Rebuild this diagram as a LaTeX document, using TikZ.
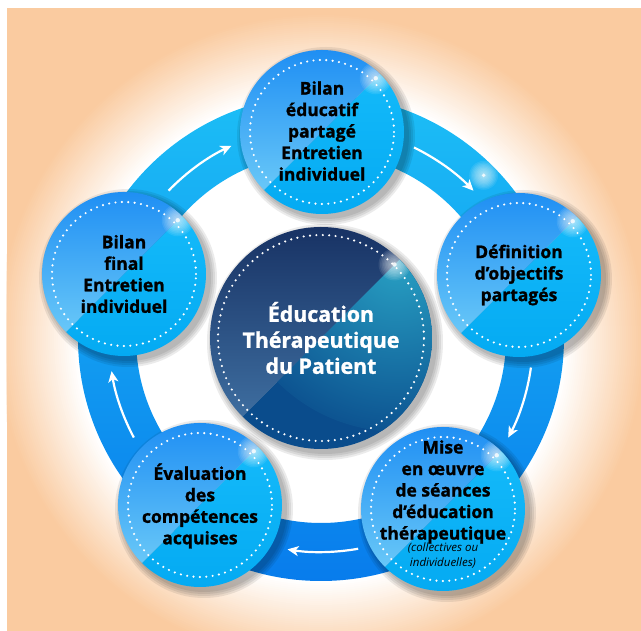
\documentclass[tikz,border=0pt]{standalone}
\usepackage{fontspec}
\setmainfont{Open Sans}[BoldFeatures={FakeBold=1.2}]
\usetikzlibrary{arrows.meta}
\definecolor{peach}{RGB}{250,203,160}
\definecolor{ringtop}{RGB}{28,190,246}
\definecolor{ringbot}{RGB}{8,124,236}
\definecolor{cblue}{RGB}{12,128,242}
\definecolor{clight}{RGB}{105,200,248}
\definecolor{ccyanA}{RGB}{20,186,250}
\definecolor{ccyanB}{RGB}{0,166,240}
\definecolor{navyA}{RGB}{14,35,85}
\definecolor{navySlate}{RGB}{62,110,160}
\definecolor{navyB}{RGB}{10,76,140}
\definecolor{tealglow}{RGB}{40,160,195}
\tikzset{
  dotty/.style={white, line width=2.4pt, line cap=round, dash pattern=on 0pt off 6.4pt},
  flow/.style={white, line width=2.2pt, -{Stealth[length=11pt,width=10pt,inset=3pt]}},
  lbl/.style={align=center, text=black, font=\bfseries\fontsize{17.5}{21.5}\selectfont, inner sep=0pt},
  note/.style={align=center, text=black, font=\itshape\fontsize{11.5}{15}\selectfont, inner sep=0pt},
  ctitle/.style={align=center, text=white, font=\bfseries\fontsize{21.3}{26}\selectfont, inner sep=0pt},
}
\newcommand{\etpshadow}[2]{%
  \foreach \d in {7,5,3,1} {\fill[black, opacity=0.08] ([shift={(4,-4)}]#1) circle ({#2+\d});}%
}
\newcommand{\etpglint}[2]{%
  \foreach \rr in {16,14.5,...,1} {\fill[white, opacity=0.09] (#1) circle ({\rr*#2});}%
  \fill[white, opacity=0.8] (#1) circle ({2.2*#2});%
}
\newcommand{\etpbubble}[1]{%
  \etpshadow{#1}{82}
  \begin{scope}
    \clip (#1) circle (82);
    \begin{scope}[shift={(#1)}, rotate=45]
      \shade[top color=ccyanA, bottom color=ccyanB] (-84,-84) rectangle (84,0);
      \shade[top color=cblue, bottom color=clight] (-84,0) rectangle (84,84);
    \end{scope}
    \etpglint{[shift={(45:76)}]#1}{1}
  \end{scope}
  \draw[dotty] (#1) circle (72);
}
\begin{document}
\begin{tikzpicture}[x=1pt,y=1pt]
\useasboundingbox (-321,-293) rectangle (320,338);
\coordinate (O) at (0,0);
% background
\fill[peach] (-314,-293) rectangle (320,330);
\begin{scope}
  \clip (-314,-293) rectangle (320,330);
  \foreach \i [evaluate=\i as \pct using {\i*2.5}, evaluate=\i as \rad using {325-2*\i}] in {0,...,40}
    {\fill[white!\pct!peach] (O) circle (\rad);}
\end{scope}
% ring
\shade[top color=ringtop, bottom color=ringbot, even odd rule] (O) circle (243) (O) circle (185);
\etpglint{[shift={(45:230)}]O}{0.9}
% arrows
\draw[flow] ([shift={(136:212)}]O) arc[start angle=136, end angle=115, radius=212];
\draw[flow] ([shift={(64:212)}]O) arc[start angle=64, end angle=44, radius=212];
\draw[flow] ([shift={(-8:212)}]O) arc[start angle=-8, end angle=-28, radius=212];
\draw[flow] ([shift={(-80:214)}]O) arc[start angle=-80, end angle=-99, radius=214];
\draw[flow] ([shift={(208:212)}]O) arc[start angle=208, end angle=189, radius=212];
% centre bubble
\etpshadow{O}{111}
\begin{scope}
  \clip (O) circle (111);
  \begin{scope}[rotate=45]
    \fill[navyB] (-113,-113) rectangle (113,0);
    \begin{scope}
      \clip (-113,-113) rectangle (113,0);
      \shade[inner color=tealglow, outer color=navyB] (108,0) circle (170);
    \end{scope}
    \shade[top color=navyA, bottom color=navySlate] (-113,0) rectangle (113,113);
  \end{scope}
  \etpglint{[shift={(45:104)}]O}{1}
\end{scope}
\draw[dotty] (O) circle (103);
% outer bubbles
\coordinate (pT) at (1,206);
\coordinate (pR) at (198,63);
\coordinate (pBR) at (122,-171);
\coordinate (pBL) at (-121,-167);
\coordinate (pL) at (-197,64);
\etpbubble{pT}
\etpbubble{pR}
\etpbubble{pBR}
\etpbubble{pBL}
\etpbubble{pL}
% texts
\node[ctitle] (ctr) at (O) {Éducation\\Thérapeutique\\du Patient};
\node[lbl] (tT) at (1,207) {Bilan\\éducatif\\partagé\\Entretien\\individuel};
\node[lbl] (tR) at (198,63) {Définition\\d’objectifs\\partagés};
\node[lbl] (tBR) at (122,-154) {Mise\\en œuvre\\de séances\\d’éducation\\thérapeutique};
\node[note] (nBR) at (122,-218) {(collectives ou\\individuelles)};
\node[lbl] (tBL) at (-121,-168) {Évaluation\\des\\compétences\\acquises};
\node[lbl] (tL) at (-197,64) {Bilan\\final\\Entretien\\individuel};
\end{tikzpicture}
\end{document}
